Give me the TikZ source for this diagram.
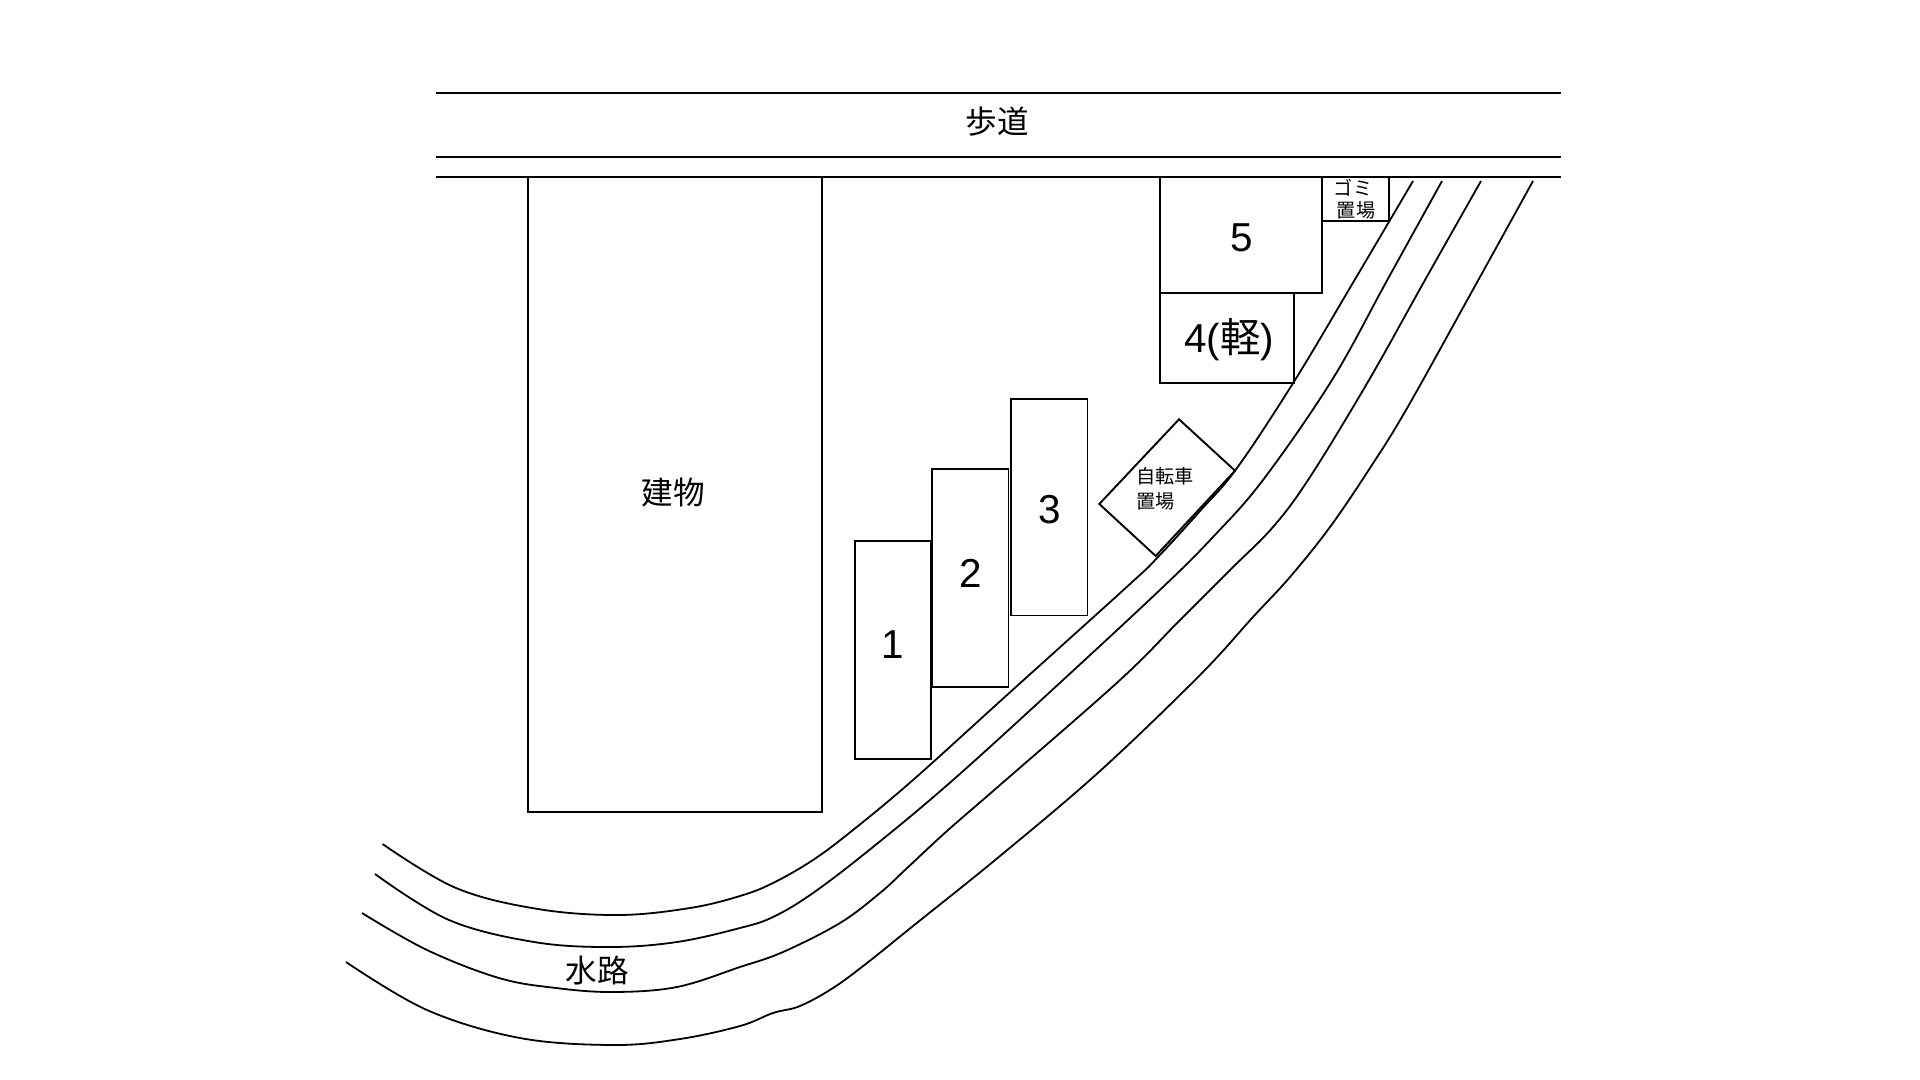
\documentclass[tikz,border=0pt]{standalone}
\usepackage{fontspec}
\setmainfont{Liberation Sans}
\newfontfamily\cjk{Noto Sans CJK JP}
\tikzset{
  px/.style={x=0.5pt,y=-0.5pt},
  ln/.style={draw=black,line width=0.95pt},
  lot/.style={ln,line join=miter},
  creek/.style={draw=black,line width=0.9pt,line cap=butt,line join=round,smooth,tension=0.6},
  num/.style={inner sep=0pt,font=\fontsize{20.2}{21}\selectfont},
  big/.style={inner sep=0pt,font=\fontsize{15.8}{17}\selectfont\cjk},
  tiny/.style={inner sep=0pt,font=\fontsize{9.6}{10}\selectfont\cjk}
}
\begin{document}
\begin{tikzpicture}[px]
\useasboundingbox (0,0) rectangle (1920,1080);
\fill[white] (0,0) rectangle (1920,1080);
% road
\draw[ln] (436,93) -- (1561,93);
\draw[ln] (436,157) -- (1561,157);
\draw[ln] (436,177) -- (1561,177);
% lots
\draw[lot] (528,177) rectangle (822,812);
\draw[lot] (855,541) rectangle (931,759);
\draw[lot] (932,469) rectangle (1008.5,687);
\draw[lot] (1011,399) rectangle (1087.5,615.5);
\draw[lot] (1160,177) rectangle (1322,293);
\draw[lot] (1160,293) rectangle (1294,383);
\draw[lot] (1322,177) rectangle (1389,221);
\draw[lot] (1179,419.3) -- (1235,470.7) -- (1155.7,556) -- (1099.3,504) -- cycle;
% creek lines
\draw[creek] plot coordinates {(382.5,844) (456,888) (538,909) (619,915) (690,908) (740,896) (773,883) (813,860) (853,830) (913,780) (1007,695) (1130,584) (1158,557) (1200,511) (1237,468) (1295,380) (1354,281) (1413,181)};
\draw[creek] plot coordinates {(375,874) (449,920) (534,942) (610,947) (677,942) (740,928) (773,917) (813,893) (873,847) (953,780) (1063,680) (1163,587) (1213,537) (1263,480) (1332,380) (1387,280.5) (1442,181)};
\draw[creek] plot coordinates {(362,913) (427,950) (499,978) (556,988) (613,992) (677,987) (740,967) (783,952) (840,923) (880,893) (905,870) (947,831) (1000,785) (1120,680) (1180,620) (1230,570) (1273,527) (1310,477) (1369,380) (1425,280) (1481,181)};
\draw[creek] plot coordinates {(346,962) (427,1010) (520,1038) (614,1045) (680,1039) (740,1026) (773,1013) (800,1006) (833,988) (867,963) (913,926) (1000,856) (1100,771) (1200,675) (1253,617) (1290,577) (1330,527) (1370,468) (1406,410) (1470,295) (1533,181)};
% labels
\node[big] (walk) at (997,122) {歩道};
\node[big] (bldg) at (673.5,493) {建物};
\node[big] (water) at (597,970) {水路};
\node[num] (p1) at (892.5,645) {1};
\node[num] (p2) at (970.5,573.5) {2};
\node[num] (p3) at (1049.5,509.5) {3};
\node[num] (p5) at (1241.5,237.5) {5};
\node[num] (p4) at (1229,340) {4({\cjk 軽})};
\node[tiny,anchor=west] (bike1) at (1136,476) {自転車};
\node[tiny,anchor=west] (bike2) at (1136,501) {置場};
\node[tiny,anchor=center] (trash1) at (1353,187.5) {ゴミ};
\node[tiny,anchor=center] (trash2) at (1356,210) {置場};
\end{tikzpicture}
\end{document}
